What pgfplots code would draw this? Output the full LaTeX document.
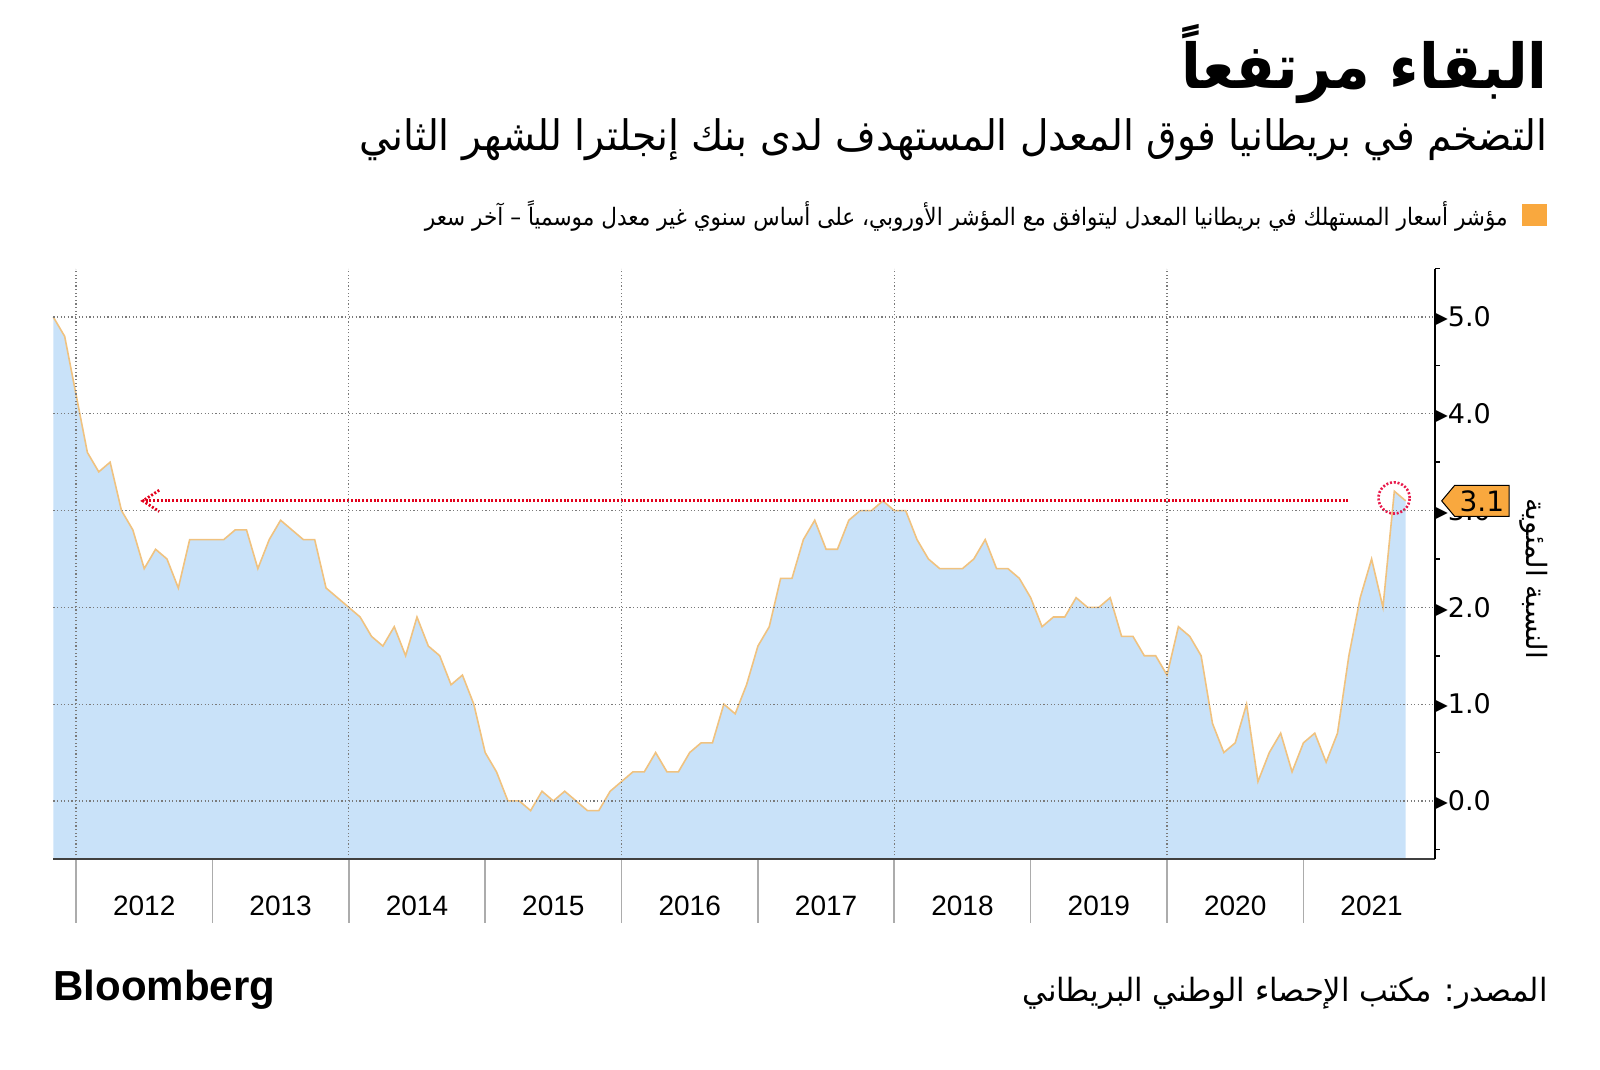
\documentclass[border=0pt]{standalone}
\usepackage{pgfplots}
\pgfplotsset{compat=1.18}
\usepgfplotslibrary{fillbetween}
\usetikzlibrary{shapes.symbols}
\usepackage{fontspec}
\setmainfont{Liberation Sans}
\newfontfamily\arabicfont[Script=Arabic]{DejaVu Sans}
\newfontfamily\dejavu{DejaVu Sans}
\TeXXeTstate=1

\definecolor{areablue}{HTML}{C9E2F9}
\definecolor{lineorange}{HTML}{F0C27F}
\definecolor{calloutorange}{HTML}{F9A83E}
\definecolor{arrowred}{HTML}{E3001B}
\definecolor{circlered}{HTML}{E8194B}
\definecolor{gridgray}{HTML}{7A7A7A}

% UK HICP, y/y %, monthly (Oct 2011 - Sep 2021); x = year + month/12
\pgfplotstableread{
x y
2011.8333 5.0
2011.9167 4.8
2012.0000 4.2
2012.0833 3.6
2012.1667 3.4
2012.2500 3.5
2012.3333 3.0
2012.4167 2.8
2012.5000 2.4
2012.5833 2.6
2012.6667 2.5
2012.7500 2.2
2012.8333 2.7
2012.9167 2.7
2013.0000 2.7
2013.0833 2.7
2013.1667 2.8
2013.2500 2.8
2013.3333 2.4
2013.4167 2.7
2013.5000 2.9
2013.5833 2.8
2013.6667 2.7
2013.7500 2.7
2013.8333 2.2
2013.9167 2.1
2014.0000 2.0
2014.0833 1.9
2014.1667 1.7
2014.2500 1.6
2014.3333 1.8
2014.4167 1.5
2014.5000 1.9
2014.5833 1.6
2014.6667 1.5
2014.7500 1.2
2014.8333 1.3
2014.9167 1.0
2015.0000 0.5
2015.0833 0.3
2015.1667 0.0
2015.2500 0.0
2015.3333 -0.1
2015.4167 0.1
2015.5000 0.0
2015.5833 0.1
2015.6667 0.0
2015.7500 -0.1
2015.8333 -0.1
2015.9167 0.1
2016.0000 0.2
2016.0833 0.3
2016.1667 0.3
2016.2500 0.5
2016.3333 0.3
2016.4167 0.3
2016.5000 0.5
2016.5833 0.6
2016.6667 0.6
2016.7500 1.0
2016.8333 0.9
2016.9167 1.2
2017.0000 1.6
2017.0833 1.8
2017.1667 2.3
2017.2500 2.3
2017.3333 2.7
2017.4167 2.9
2017.5000 2.6
2017.5833 2.6
2017.6667 2.9
2017.7500 3.0
2017.8333 3.0
2017.9167 3.1
2018.0000 3.0
2018.0833 3.0
2018.1667 2.7
2018.2500 2.5
2018.3333 2.4
2018.4167 2.4
2018.5000 2.4
2018.5833 2.5
2018.6667 2.7
2018.7500 2.4
2018.8333 2.4
2018.9167 2.3
2019.0000 2.1
2019.0833 1.8
2019.1667 1.9
2019.2500 1.9
2019.3333 2.1
2019.4167 2.0
2019.5000 2.0
2019.5833 2.1
2019.6667 1.7
2019.7500 1.7
2019.8333 1.5
2019.9167 1.5
2020.0000 1.3
2020.0833 1.8
2020.1667 1.7
2020.2500 1.5
2020.3333 0.8
2020.4167 0.5
2020.5000 0.6
2020.5833 1.0
2020.6667 0.2
2020.7500 0.5
2020.8333 0.7
2020.9167 0.3
2021.0000 0.6
2021.0833 0.7
2021.1667 0.4
2021.2500 0.7
2021.3333 1.5
2021.4167 2.1
2021.5000 2.5
2021.5833 2.0
2021.6667 3.2
2021.7500 3.1
}\cpidata

\begin{document}
\begin{tikzpicture}
\begin{axis}[
  at={(26.65pt,105.5pt)}, anchor=south west,
  scale only axis, width=690.85pt, height=295.2pt,
  xmin=2011.8333, xmax=2021.965, ymin=-0.6, ymax=5.5,
  axis on top, clip=false,
  axis x line*=bottom, axis y line*=right,
  x axis line style={draw=black!75, line width=1pt},
  y axis line style={draw=black, line width=1pt},
  xtick={2012.5,2013.5,2014.5,2015.5,2016.5,2017.5,2018.5,2019.5,2020.5,2021.5},
  xticklabels={2012,2013,2014,2015,2016,2017,2018,2019,2020,2021},
  xticklabel style={font=\fontsize{14}{16}\selectfont, yshift=-15pt},
  extra x ticks={2012,2014,2016,2018,2020},
  extra x tick labels={},
  extra x tick style={xmajorgrids=true},
  major tick length=0pt,
  minor tick length=2.5pt,
  ytick={0,1,2,3,4,5},
  minor ytick={-0.5,0.5,1.5,2.5,3.5,4.5,5.5},
  ymajorgrids=true,
  major grid style={draw=gridgray, line width=0.6pt, dash pattern=on 0.6pt off 1.2pt},
  minor y tick style={draw=black, line width=0.8pt},
  tick align=outside,
  /pgf/number format/assume math mode=true,
  yticklabel={▸\pgfmathprintnumber[fixed,fixed zerofill,precision=1]{\tick}},
  yticklabel style={font=\dejavu\fontsize{13.5}{15}\selectfont, anchor=west, inner sep=0pt, xshift=-0.5pt},
]
\addplot[draw=lineorange, line width=0.8pt, name path=cpi] table[x=x,y=y]{\cpidata};
\path[name path=base] (axis cs:2011.8333,-0.6) -- (axis cs:2021.75,-0.6);
\addplot[fill=areablue, draw=none] fill between[of=cpi and base];

% year separators below the axis
\pgfplotsinvokeforeach{2012,2013,2014,2015,2016,2017,2018,2019,2020,2021}{
  \draw[gray!65, line width=0.8pt] (axis cs:#1,-0.6) -- ++(0pt,-32pt);
}

% red arrow back to the last time inflation was this high
\draw[arrowred, line width=1.4pt, dash pattern=on 1pt off 0.9pt]
  (axis cs:2021.33,3.1) -- (axis cs:2012.49,3.1);
\draw[arrowred, line width=1.4pt, dash pattern=on 1pt off 0.9pt]
  (axis cs:2012.61,3.21) -- (axis cs:2012.49,3.1) -- (axis cs:2012.61,2.99);
\draw[circlered, line width=1.3pt, dash pattern=on 1pt off 0.9pt]
  (axis cs:2021.665,3.13) circle[radius=7.8pt];
\coordinate (lab) at (axis cs:2021.965,3.1);
\end{axis}

\node[signal, signal to=west, signal pointer angle=100, fill=calloutorange, draw=black,
      line width=0.5pt, minimum height=15.5pt, inner xsep=2.5pt, inner ysep=1pt,
      anchor=west, xshift=3pt, font=\dejavu\fontsize{14}{16}\selectfont] at (lab) {3.1};

\node[rotate=-90, inner sep=0pt] at (767pt,245.5pt)
  {\arabicfont\fontsize{14}{16}\selectfont\beginR النسبة المئوية\endR};

\node[anchor=east, inner sep=0pt] at (774pt,503pt)
  {\scalebox{0.93}[1]{\arabicfont\bfseries\fontsize{31}{36}\selectfont\beginR البقاء مرتفعاً\endR}};
\node[anchor=east, inner sep=0pt] at (774pt,465pt)
  {\scalebox{0.935}[1]{\arabicfont\fontsize{21}{24}\selectfont\beginR التضخم في بريطانيا فوق المعدل المستهدف لدى بنك إنجلترا للشهر الثاني\endR}};

\fill[calloutorange] (761pt,422pt) rectangle (773.5pt,433pt);
\node[anchor=east, inner sep=0pt] at (754pt,427pt)
  {\scalebox{0.9}[1]{\arabicfont\fontsize{12}{14}\selectfont\beginR مؤشر أسعار المستهلك في بريطانيا المعدل ليتوافق مع المؤشر الأوروبي، على أساس سنوي غير معدل موسمياً – آخر سعر\endR}};

\node[anchor=east, inner sep=0pt] at (774pt,38.5pt)
  {\scalebox{0.953}[1]{\arabicfont\fontsize{16}{18}\selectfont\beginR المصدر: مكتب الإحصاء الوطني البريطاني\endR}};
\node[anchor=west, inner sep=0pt] at (26.5pt,40pt)
  {\bfseries\fontsize{21}{24}\selectfont Bloomberg};

\path (0pt,0pt) rectangle (800pt,535pt);
\end{tikzpicture}
\end{document}
